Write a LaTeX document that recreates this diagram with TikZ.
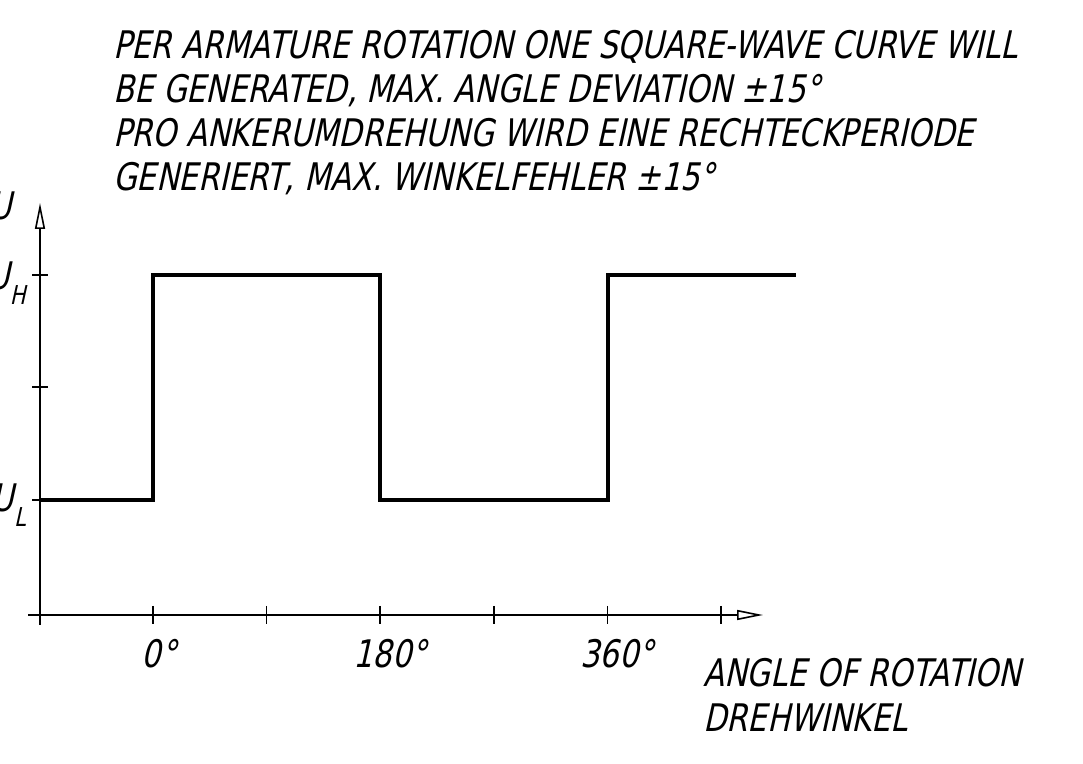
\documentclass[tikz,border=0pt]{standalone}
\usepackage{fontspec}
\usetikzlibrary{arrows.meta}
\newfontfamily\isofont[FakeSlant=0.22,FakeStretch=0.8]{DejaVu Sans}
\newcommand\idx[1]{\raisebox{-7.5pt}{\fontsize{13}{15}\selectfont #1}}
\tikzset{
  lbl/.style={font=\isofont\fontsize{19}{22}\selectfont, inner sep=0pt},
  axis/.style={line width=1pt},
  tick/.style={line width=0.8pt},
  wave/.style={line width=1.6pt, line join=miter},
  tip/.style={-{Triangle[open, length=13pt, width=5pt, line width=0.8pt]}}
}
\begin{document}
\begin{tikzpicture}[x=0.5pt, y=-0.5pt]
    \useasboundingbox (0,0) rectangle (1083,764);

    % Text oben
    \node[lbl, anchor=base west] (t1) at (113,59) {PER ARMATURE ROTATION ONE SQUARE-WAVE CURVE WILL};
    \node[lbl, anchor=base west] (t2) at (113,103) {BE GENERATED, MAX. ANGLE DEVIATION ±15°};
    \node[lbl, anchor=base west] (t3) at (113,147) {PRO ANKERUMDREHUNG WIRD EINE RECHTECKPERIODE};
    \node[lbl, anchor=base west] (t4) at (113,191) {GENERIERT, MAX. WINKELFEHLER ±15°};

    % Achsen
    \draw[axis, tip] (40,625) -- (40,203);
    \draw[axis, tip] (28,615) -- (763,615);

    % Teilstriche
    \foreach \k in {0,...,5}
        \draw[tick] ({153+113.6*\k},606) -- ({153+113.6*\k},624);
    \foreach \yy in {275,387,500}
        \draw[tick] (32,\yy) -- (48,\yy);

    % Rechteckkurve
    \draw[wave] (40,500) -- (153,500) -- (153,275) -- (380,275) -- (380,500)
        -- (608,500) -- (608,275) -- (796,275);

    % Beschriftung
    \node[lbl, anchor=base east] (u) at (12,220) {U};
    \node[lbl, anchor=base east] (uh) at (26,290) {U\idx{H}};
    \node[lbl, anchor=base east] (ul) at (26,512) {U\idx{L}};
    \node[lbl, anchor=base] (a0) at (159,668) {0°};
    \node[lbl, anchor=base] (a180) at (390,668) {180°};
    \node[lbl, anchor=base] (a360) at (617,668) {360°};
    \node[lbl, anchor=base west] (e1) at (703,687) {ANGLE OF ROTATION};
    \node[lbl, anchor=base west] (e2) at (703,732) {DREHWINKEL};
\end{tikzpicture}
\end{document}
